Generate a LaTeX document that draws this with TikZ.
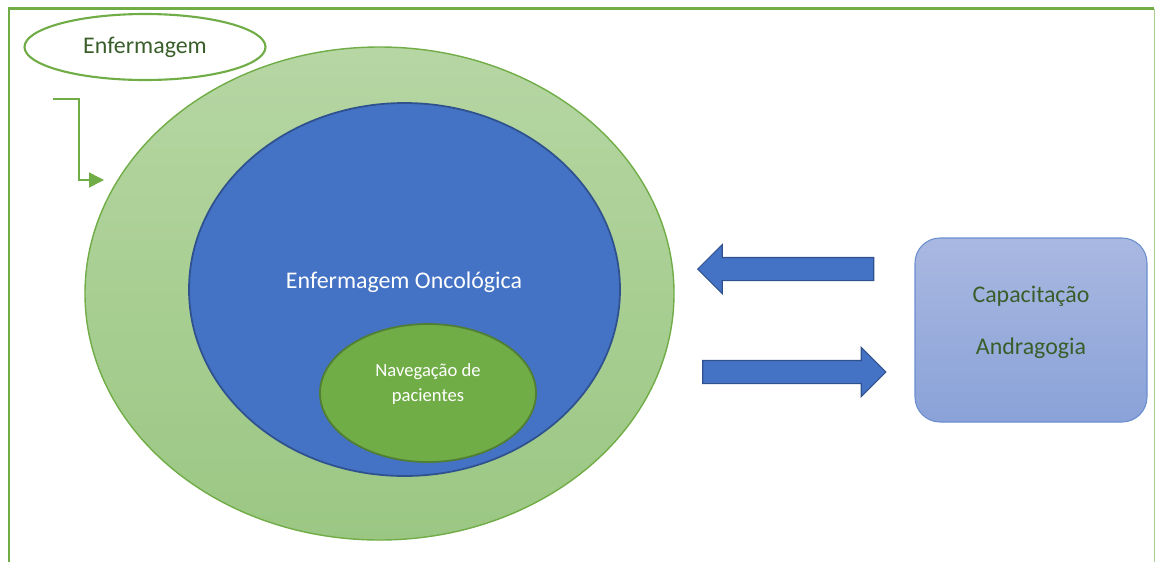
\documentclass[tikz,border=0pt]{standalone}
\usepackage{fontspec}
\setmainfont{Carlito}
\usetikzlibrary{shapes.geometric,shapes.arrows,arrows.meta}

\definecolor{offgreen}{HTML}{70AD47}
\definecolor{offgreendark}{HTML}{507E32}
\definecolor{offgreentop}{HTML}{B6D6A3}
\definecolor{offgreenbot}{HTML}{9BC783}
\definecolor{offblue}{HTML}{4472C4}
\definecolor{offbluedark}{HTML}{2F528F}
\definecolor{boxtop}{HTML}{A9B8E1}
\definecolor{boxbot}{HTML}{8AA2D8}
\definecolor{txtgreen}{HTML}{3A5E2A}

\begin{document}
\begin{tikzpicture}
  \tikzstyle{enf_oval}   = [shape = ellipse, draw = offgreen, line width=1.2pt, inner sep=0pt]
  \tikzstyle{blk_arrow}  = [shape = single arrow, draw = offbluedark, fill = offblue, line width=0.6pt,
                            inner sep=0pt, inner ysep=0.22cm, single arrow head extend=0.26cm]
  \tikzstyle{big_txt}    = [font=\fontsize{13.6}{16}\selectfont]

  \useasboundingbox (0,0) rectangle (23.12,-11.22);

  % moldura
  \draw[offgreen, line width=1.3pt] (0.18,-11.4) -- (0.18,-0.17) -- (23.08,-0.17);
  \draw[offgreen!60, line width=0.5pt] (23.08,-0.17) -- (23.08,-11.4);

  \node[enf_oval, minimum width=4.82cm, minimum height=1.32cm, big_txt, text=txtgreen]
    at (2.9,-0.94) (enf) {Enfermagem};

  \node[enf_oval, minimum width=11.78cm, minimum height=9.86cm, line width=0.8pt,
        top color=offgreentop, bottom color=offgreenbot] at (7.59,-5.87) (outer) {};

  \node[shape = ellipse, draw = offbluedark, fill = offblue, line width=1pt, inner sep=0pt,
        minimum width=8.62cm, minimum height=7.46cm] at (8.09,-5.79) (onco) {};
  \node[big_txt, text=white] at (8.08,-5.64) (onco_lbl) {Enfermagem Oncológica};

  \node[shape = ellipse, draw = offgreendark, fill = offgreen, line width=1pt, inner sep=0pt,
        minimum width=4.32cm, minimum height=2.76cm] at (8.56,-7.86) (nav) {};
  \node[text=white, align=center, font=\fontsize{10.6}{14}\selectfont] at (8.56,-7.68) (nav_lbl)
    {Navegação de\\pacientes};

  \node[rectangle, rounded corners=0.5cm, draw = offblue!80, line width=0.6pt,
        top color=boxtop, bottom color=boxbot, minimum width=4.64cm, minimum height=3.68cm]
    at (20.62,-6.6) (cap) {};
  \node[big_txt, text=txtgreen] at (20.62,-5.92) (cap_l1) {Capacitação};
  \node[big_txt, text=txtgreen] at (20.62,-6.96) (cap_l2) {Andragogia};

  \node[blk_arrow, shape border rotate=180, minimum height=3.52cm] at (15.83,-5.38) (arr_in) {};
  \node[blk_arrow, minimum height=3.66cm] at (15.77,-7.44) (arr_out) {};

  \coordinate (el_start) at (1.06,-1.98);
  \coordinate (el_end)   at (2.08,-3.6);
  \draw[offgreen, line width=0.9pt, -{Triangle[length=0.3cm, width=0.3cm]}]
    (el_start) -- (1.58,-1.98) |- (el_end);

\end{tikzpicture}
\end{document}
